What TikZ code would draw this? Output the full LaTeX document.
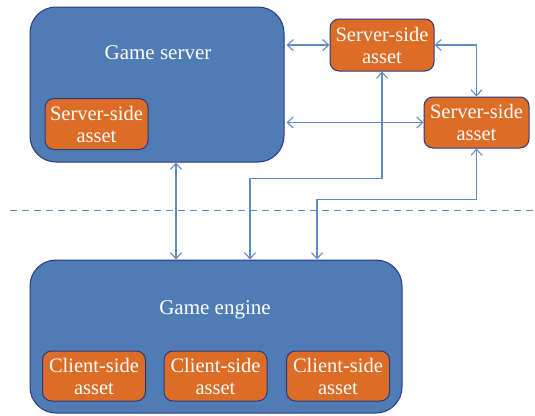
\documentclass[tikz,border=0pt]{standalone}
\usepackage{fontspec}
\setmainfont{Liberation Serif}
\usepackage{tikz}
\usetikzlibrary{arrows.meta, positioning}

\definecolor{boxblue}{RGB}{79,124,180}
\definecolor{edgeblue}{RGB}{42,56,128}
\definecolor{assetorange}{RGB}{220,108,38}
\definecolor{linkblue}{RGB}{96,140,198}

\begin{document}
\begin{tikzpicture}[x=1pt, y=-1pt,
    bigbox/.style={rectangle, rounded corners=26pt, draw=edgeblue, line width=1pt, fill=boxblue},
    asset/.style={rectangle, rounded corners=9pt, draw=edgeblue, line width=1pt, fill=assetorange,
        text=white, align=center, font=\fontsize{20.5}{22}\selectfont, inner sep=0pt},
    title/.style={text=white, font=\fontsize{21}{23}\selectfont},
    link/.style={linkblue, line width=1.1pt, {Straight Barb[length=6pt,width=11pt]}-{Straight Barb[length=6pt,width=11pt]}}]
    \useasboundingbox (0,0) rectangle (535,415);

    % Game server with its own asset
    \node[bigbox, minimum width=254pt, minimum height=155pt] (server) at (157,84.5) {};
    \node[title] (servertitle) at (158,53) {Game server};
    \node[asset, minimum width=103pt, minimum height=51pt] (sasset0) at (96.5,124) {Server-side\\asset};

    % Stand-alone server-side assets
    \node[asset, minimum width=104pt, minimum height=52pt] (sasset1) at (382,45) {Server-side\\asset};
    \node[asset, minimum width=105pt, minimum height=51pt] (sasset2) at (476.5,122.5) {Server-side\\asset};

    % Game engine with client-side assets
    \node[bigbox, minimum width=372pt, minimum height=153pt] (engine) at (216,336.5) {};
    \node[title] (enginetitle) at (215,310) {Game engine};
    \foreach \i/\x in {0/94, 1/215.5, 2/338} {
        \node[asset, minimum width=103pt, minimum height=50pt] (casset\i) at (\x,376) {Client-side\\asset};
    }

    % Network boundary
    \coordinate (cutleft) at (10,210);
    \coordinate (cutright) at (535,210);
    \draw[linkblue, line width=1pt, dash pattern=on 7pt off 5pt] (cutleft) -- (cutright);

    % Links
    \draw[link] ([xshift=2pt]server.east |- sasset1.west) -- (sasset1.west);
    \draw[link] ([xshift=2pt]server.east |- sasset2.west) -- (sasset2.west);
    \draw[link] (sasset1.east) -| (sasset2.north);
    \draw[link] ([xshift=19pt]server.south) -- ([xshift=19pt]server.south |- engine.north);
    \draw[link] (sasset1.south) -- ++(0,107) -| ([xshift=34pt]engine.north);
    \draw[link] (sasset2.south) -- ++(0,51) -| ([xshift=101pt]engine.north);
\end{tikzpicture}
\end{document}
